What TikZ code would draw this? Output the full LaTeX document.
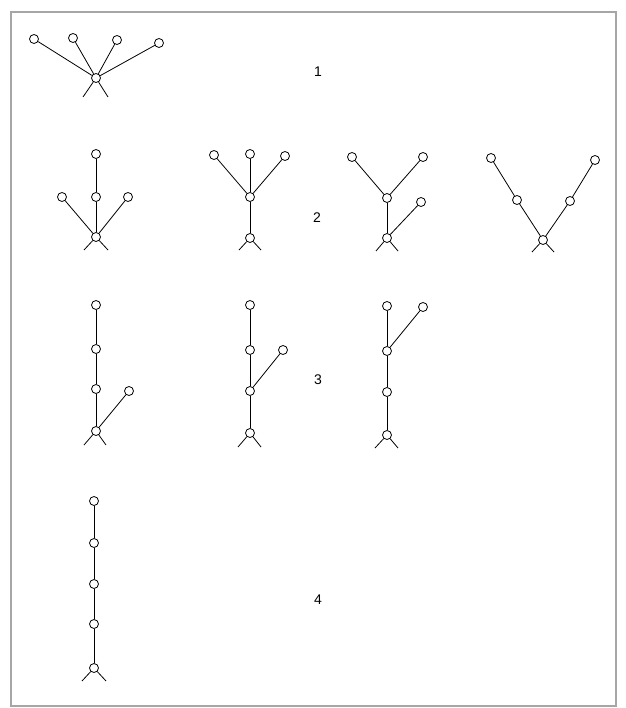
\documentclass[tikz,border=0pt]{standalone}
\usepackage{fontspec}
\setsansfont{Liberation Sans}
\begin{document}
\begin{tikzpicture}[x=1pt,y=-1pt,
  vtx/.style={draw, circle, inner sep=0pt, minimum size=9pt, line width=0.8pt, fill=white},
  edge/.style={line width=0.8pt},
  lbl/.style={font=\sffamily\fontsize{14}{14}\selectfont}]

\useasboundingbox (0,0) rectangle (625,708);
\draw[black!35, line width=1.2pt] (11,12) rectangle (616,706);

% row 1
\node[vtx] (ra) at (96,78) {};
\node[vtx] (a1) at (34,39) {};
\node[vtx] (a2) at (73,38) {};
\node[vtx] (a3) at (117,40) {};
\node[vtx] (a4) at (159,43) {};
\coordinate (ral) at (83,97);
\coordinate (rar) at (108,97);
\draw[edge] (a1) -- (ra);
\draw[edge] (a2) -- (ra);
\draw[edge] (a3) -- (ra);
\draw[edge] (a4) -- (ra);
\draw[edge] (ra) -- (ral);
\draw[edge] (ra) -- (rar);
\node[lbl] (n1) at (318,72) {1};

% row 2
\node[vtx] (rb) at (96,237) {};
\node[vtx] (b1) at (96,154) {};
\node[vtx] (b2) at (96,197) {};
\node[vtx] (b3) at (62,197) {};
\node[vtx] (b4) at (128,197) {};
\coordinate (rbl) at (84,250);
\coordinate (rbr) at (108,250);
\draw[edge] (b1) -- (b2);
\draw[edge] (b2) -- (rb);
\draw[edge] (b3) -- (rb);
\draw[edge] (b4) -- (rb);
\draw[edge] (rb) -- (rbl);
\draw[edge] (rb) -- (rbr);

\node[vtx] (rc) at (250,238) {};
\node[vtx] (c1) at (214,155) {};
\node[vtx] (c2) at (250,154) {};
\node[vtx] (c3) at (285,156) {};
\node[vtx] (c4) at (250,197) {};
\coordinate (rcl) at (239,250);
\coordinate (rcr) at (261,250);
\draw[edge] (c1) -- (c4);
\draw[edge] (c2) -- (c4);
\draw[edge] (c3) -- (c4);
\draw[edge] (c4) -- (rc);
\draw[edge] (rc) -- (rcl);
\draw[edge] (rc) -- (rcr);

\node[lbl] (n2) at (317,218) {2};

\node[vtx] (rd) at (387,238) {};
\node[vtx] (d1) at (352,157) {};
\node[vtx] (d2) at (423,157) {};
\node[vtx] (d3) at (387,198) {};
\node[vtx] (d4) at (421,202) {};
\coordinate (rdl) at (376,251);
\coordinate (rdr) at (398,251);
\draw[edge] (d1) -- (d3);
\draw[edge] (d2) -- (d3);
\draw[edge] (d3) -- (rd);
\draw[edge] (d4) -- (rd);
\draw[edge] (rd) -- (rdl);
\draw[edge] (rd) -- (rdr);

\node[vtx] (re) at (543,240) {};
\node[vtx] (e1) at (491,158) {};
\node[vtx] (e2) at (517,200) {};
\node[vtx] (e3) at (595,160) {};
\node[vtx] (e4) at (570,201) {};
\coordinate (rel) at (532,252);
\coordinate (rer) at (554,252);
\draw[edge] (e1) -- (e2);
\draw[edge] (e2) -- (re);
\draw[edge] (e3) -- (e4);
\draw[edge] (e4) -- (re);
\draw[edge] (re) -- (rel);
\draw[edge] (re) -- (rer);

% row 3
\node[vtx] (rf) at (96,431) {};
\node[vtx] (f1) at (96,305) {};
\node[vtx] (f2) at (96,349) {};
\node[vtx] (f3) at (96,389) {};
\node[vtx] (f4) at (129,391) {};
\coordinate (rfl) at (84,445);
\coordinate (rfr) at (106,445);
\draw[edge] (f1) -- (f2);
\draw[edge] (f2) -- (f3);
\draw[edge] (f3) -- (rf);
\draw[edge] (f4) -- (rf);
\draw[edge] (rf) -- (rfl);
\draw[edge] (rf) -- (rfr);

\node[vtx] (rg) at (250,433) {};
\node[vtx] (g1) at (250,305) {};
\node[vtx] (g2) at (250,350) {};
\node[vtx] (g3) at (250,391) {};
\node[vtx] (g4) at (283,350) {};
\coordinate (rgl) at (238,447);
\coordinate (rgr) at (261,447);
\draw[edge] (g1) -- (g2);
\draw[edge] (g2) -- (g3);
\draw[edge] (g3) -- (rg);
\draw[edge] (g4) -- (g3);
\draw[edge] (rg) -- (rgl);
\draw[edge] (rg) -- (rgr);

\node[lbl] (n3) at (318,380) {3};

\node[vtx] (rh) at (387,435) {};
\node[vtx] (h1) at (387,306) {};
\node[vtx] (h2) at (387,351) {};
\node[vtx] (h3) at (387,392) {};
\node[vtx] (h4) at (423,307) {};
\coordinate (rhl) at (375,448);
\coordinate (rhr) at (398,448);
\draw[edge] (h1) -- (h2);
\draw[edge] (h2) -- (h3);
\draw[edge] (h3) -- (rh);
\draw[edge] (h4) -- (h2);
\draw[edge] (rh) -- (rhl);
\draw[edge] (rh) -- (rhr);

% row 4
\node[vtx] (ri) at (94,668) {};
\node[vtx] (i1) at (94,501) {};
\node[vtx] (i2) at (94,543) {};
\node[vtx] (i3) at (94,584) {};
\node[vtx] (i4) at (94,624) {};
\coordinate (ril) at (82,681);
\coordinate (rir) at (106,681);
\draw[edge] (i1) -- (i2);
\draw[edge] (i2) -- (i3);
\draw[edge] (i3) -- (i4);
\draw[edge] (i4) -- (ri);
\draw[edge] (ri) -- (ril);
\draw[edge] (ri) -- (rir);

\node[lbl] (n4) at (318,600) {4};

\end{tikzpicture}
\end{document}
